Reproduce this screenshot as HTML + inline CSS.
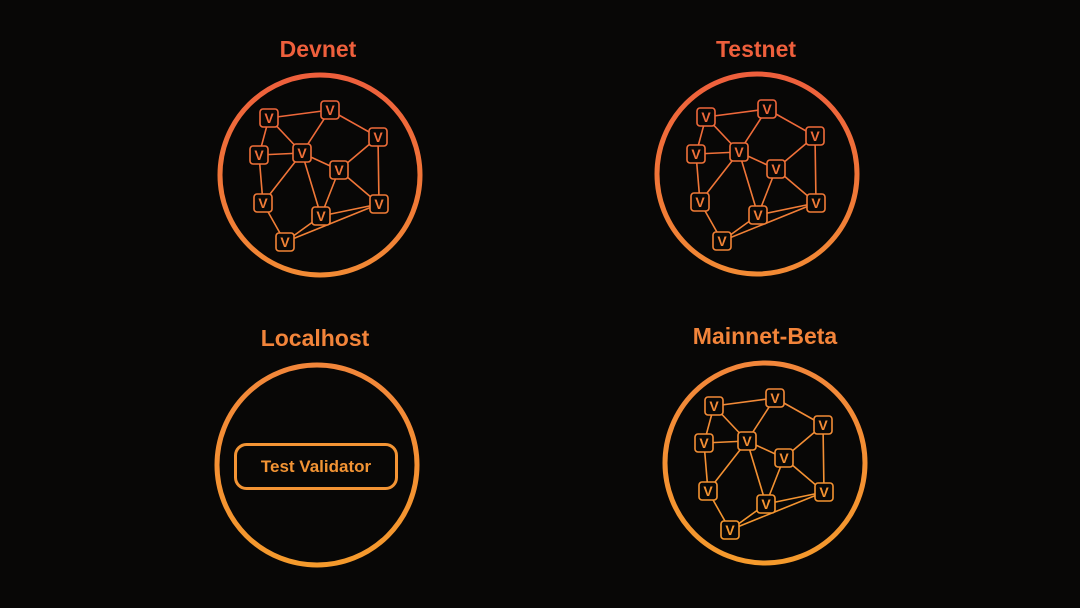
<!DOCTYPE html>
<html><head><meta charset="utf-8"><style>
html,body{margin:0;padding:0;background:#080706;}
svg{display:block}
text{font-family:"Liberation Sans",sans-serif;font-weight:bold;}
</style></head><body>
<svg width="1080" height="608" viewBox="0 0 1080 608" xmlns="http://www.w3.org/2000/svg">
<defs>
<linearGradient id="gR" gradientUnits="userSpaceOnUse" x1="0" y1="75" x2="0" y2="276">
<stop offset="0" stop-color="#ee5f3c"/><stop offset="1" stop-color="#f28a34"/></linearGradient>
<linearGradient id="gO" gradientUnits="userSpaceOnUse" x1="0" y1="75" x2="0" y2="276">
<stop offset="0" stop-color="#f2863a"/><stop offset="1" stop-color="#f59a2c"/></linearGradient>
<g id="net">
<circle cx="320" cy="175" r="100" fill="none" stroke-width="5"/>
<g fill="none" stroke-width="1.6">
<path d="M269,118L330,110 M269,118L259,155 M269,118L302,153 M330,110L302,153 M330,110L378,137 M378,137L339,170 M378,137L379,204 M259,155L302,153 M259,155L263,203 M302,153L339,170 M302,153L263,203 M302,153L321,216 M339,170L321,216 M339,170L379,204 M263,203L285,242 M321,216L379,204 M285,242L321,216 M285,242L379,204"/>
</g>
<g stroke-width="1.6">
<rect x="260" y="109" width="18" height="18" rx="3" fill="#080706"/>
<rect x="321" y="101" width="18" height="18" rx="3" fill="#080706"/>
<rect x="369" y="128" width="18" height="18" rx="3" fill="#080706"/>
<rect x="250" y="146" width="18" height="18" rx="3" fill="#080706"/>
<rect x="293" y="144" width="18" height="18" rx="3" fill="#080706"/>
<rect x="330" y="161" width="18" height="18" rx="3" fill="#080706"/>
<rect x="254" y="194" width="18" height="18" rx="3" fill="#080706"/>
<rect x="312" y="207" width="18" height="18" rx="3" fill="#080706"/>
<rect x="370" y="195" width="18" height="18" rx="3" fill="#080706"/>
<rect x="276" y="233" width="18" height="18" rx="3" fill="#080706"/>
</g>
<g stroke="none" font-size="14" text-anchor="middle" font-family="Liberation Sans, sans-serif">
<text x="269" y="123">V</text><text x="330" y="115">V</text><text x="378" y="142">V</text>
<text x="259" y="160">V</text><text x="302" y="158">V</text><text x="339" y="175">V</text>
<text x="263" y="208">V</text><text x="321" y="221">V</text><text x="379" y="209">V</text>
<text x="285" y="247">V</text>
</g>
</g>
</defs>

<g stroke="url(#gR)" fill="url(#gR)"><use href="#net"/></g>
<g transform="translate(437,-1)" stroke="url(#gR)" fill="url(#gR)"><use href="#net"/></g>
<g transform="translate(445,288)" stroke="url(#gO)" fill="url(#gO)"><use href="#net"/></g>

<g transform="translate(-3,290)">
<circle cx="320" cy="175" r="100" fill="none" stroke="url(#gO)" stroke-width="5"/>
</g>
<rect x="235.5" y="444.5" width="161" height="44" rx="11" fill="none" stroke="#f39434" stroke-width="3"/>
<text x="316" y="472" font-size="17" fill="#f39434" text-anchor="middle">Test Validator</text>

<text x="318" y="57" font-size="23" fill="#ee5f3c" text-anchor="middle">Devnet</text>
<text x="756" y="57" font-size="23" fill="#ee5f3c" text-anchor="middle">Testnet</text>
<text x="315" y="346" font-size="23" fill="#f2843a" text-anchor="middle">Localhost</text>
<text x="765" y="344" font-size="23" fill="#f2843a" text-anchor="middle">Mainnet-Beta</text>
</svg>
</body></html>
